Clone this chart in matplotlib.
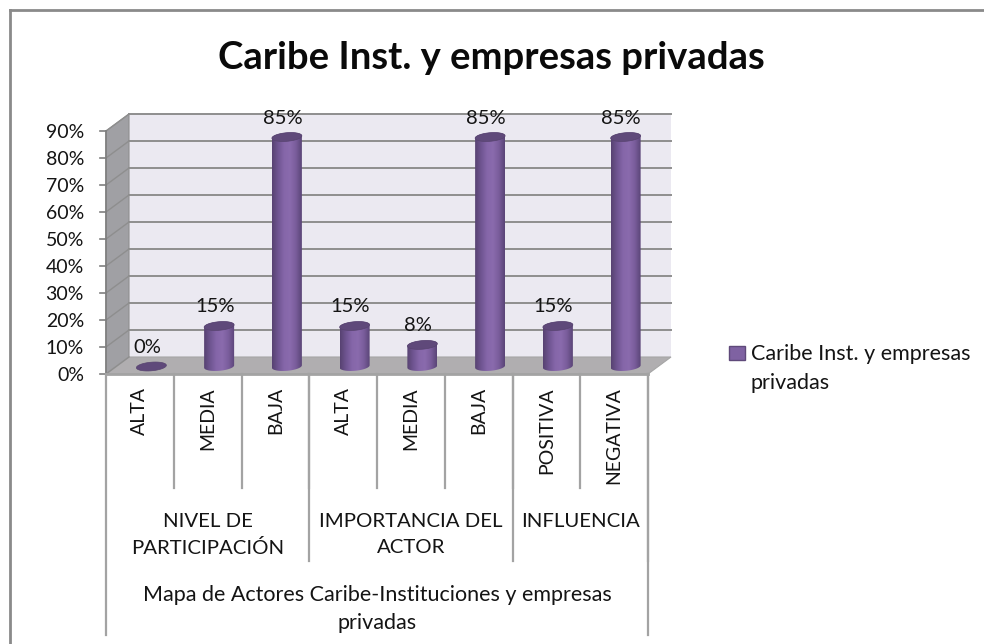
import numpy as np
import matplotlib
matplotlib.use('Agg')
import matplotlib.pyplot as plt
from matplotlib.patches import PathPatch, Polygon, Rectangle
from matplotlib.path import Path
from matplotlib.colors import LinearSegmentedColormap

categories = ['ALTA', 'MEDIA', 'BAJA', 'ALTA', 'MEDIA', 'BAJA', 'POSITIVA', 'NEGATIVA']
values = [0, 15, 85, 15, 8, 85, 15, 85]
groups = ['NIVEL DE\nPARTICIPACIÓN', 'IMPORTANCIA DEL\nACTOR', 'INFLUENCIA']
group_sizes = [3, 3, 2]
outer_label = 'Mapa de Actores Caribe-Instituciones y empresas\nprivadas'
series_name = 'Caribe Inst. y empresas\nprivadas'
title = 'Caribe Inst. y empresas privadas'
yticks = list(range(0, 100, 10))

W, H = 984, 644
plt.rcParams['font.family'] = ['Lato', 'DejaVu Sans']

fig = plt.figure(figsize=(W / 100, H / 100), dpi=100)

# whole figure is one axes, x in categories and y in percent
x0, xw = 106, 67.75
y0, yh = 374, 2.7
ax = fig.add_axes([0, 0, 1, 1])
ax.axis('off')

px = 1 / xw
py = 1 / yh
dx, dy = 23 * px, 17 * py  # depth of the 3d box
n = len(categories)
ymax = yticks[-1]
grey = '#a3a3a3'
text_col = '#141414'


def ellipse_pts(cx, cy, start, stop):
    # tilted a little, like the office 3d cylinders
    t = np.linspace(start, stop, 40)
    ex = 15 * np.cos(t)
    ey = 4.3 * np.sin(t) + 0.08 * ex
    return np.column_stack([cx + ex * px, cy + ey * py])


# chart frame, only top and left show
frame = dict(color='#8a8a8a', lw=2, transform=fig.transFigure)
fig.add_artist(plt.Line2D([10 / W, 10 / W], [0, 1 - 10 / H], **frame))
fig.add_artist(plt.Line2D([10 / W, 1], [1 - 10 / H, 1 - 10 / H], **frame))

# walls
ax.add_patch(Polygon([(dx, dy), (n + dx, dy), (n + dx, ymax + dy), (dx, ymax + dy)], fc='#ebe9f1', ec='none', zorder=1))
ax.add_patch(Polygon([(0, 0), (dx, dy), (dx, ymax + dy), (0, ymax)], fc='#a0a0a4', ec='#8f8f8f', lw=0.8, zorder=2))
ax.add_patch(Polygon([(0, 0), (n, 0), (n + dx, dy), (dx, dy)], fc='#b0aeb0', ec='#a6a6a6', lw=0.8, zorder=2))

for t in yticks:
    if t > 0:
        ax.plot([dx, n + dx], [t + dy, t + dy], color='#8e8e8e', lw=1.4, zorder=3)
    ax.plot([0, dx], [t, t + dy], color='#8e8e8e', lw=1.0, zorder=3)
    ax.plot([-6 * px, 0], [t, t], color='#7f7f7f', lw=1.2, zorder=3)
    ax.text(-22 * px, t - 2 * py, f'{t}%', ha='right', va='center', fontsize=14, color=text_col, zorder=6)
ax.plot([0, 0], [0, ymax], color='#7f7f7f', lw=1.2, zorder=3)
ax.plot([0, n], [0, 0], color=grey, lw=2, zorder=3)

# cylinders
cmap = LinearSegmentedColormap.from_list('cyl', ['#574272', '#6f5591', '#8566a9', '#8a6bad', '#7a5d9c', '#5b4578'])
grad = np.linspace(0, 1, 64).reshape(1, -1)
bw = 30 * px
for i, v in enumerate(values):
    cx = i + 0.5 + dx / 2
    base = dy / 2 - 1 * py
    top = base + v
    if v > 0:
        bottom = ellipse_pts(cx, base, np.pi, 2 * np.pi)
        upper = ellipse_pts(cx, top, 0, np.pi)
        body = Path(np.vstack([bottom, upper, bottom[:1]]), closed=True)
        patch = PathPatch(body, fc='none', ec='none', zorder=4)
        ax.add_patch(patch)
        im = ax.imshow(grad, extent=[cx - bw / 2, cx + bw / 2, base - 8 * py, top + 8 * py], cmap=cmap,
                       aspect='auto', zorder=4)
        im.set_clip_path(patch)
    ax.add_patch(Polygon(ellipse_pts(cx, top, 0, 2 * np.pi), fc='#5f497a', ec='#57436f', lw=0.5, zorder=5))
    ax.text(i + 0.5 + 7 * px, top + 19 * py, f'{v}%', ha='center', va='center', fontsize=14.5,
            color=text_col, zorder=6)

ax.set_xlim(-x0 / xw, (W - x0) / xw)
ax.set_ylim((y0 - H) / yh, y0 / yh)

# multi level axis below the box
line = dict(color=grey, lw=1.6, zorder=3)
y1, y2, y3 = -114 * py, -187 * py, -261 * py
ax.plot([0, 0], [0, y3], **line)
for i, c in enumerate(categories):
    if i > 0:
        ax.plot([i, i], [0, y1], **line)
    ax.text(i + 0.5, -13 * py, c, rotation=90, ha='center', va='top', fontsize=14, color=text_col)
pos = 0
for g, size in zip(groups, group_sizes):
    pos += size
    ax.plot([pos, pos], [0, y2], **line)
    ax.text(pos - size / 2, -139 * py, g, ha='center', va='top', fontsize=14.7,
            color=text_col, linespacing=1.62)
ax.plot([n, n], [0, y3], **line)
ax.text(n / 2, -235 * py, outer_label, ha='center', va='center', fontsize=15.5,
        color=text_col, linespacing=1.55)

# title and legend
fig.text(491 / W, 1 - 58 / H, title, ha='center', va='center', fontsize=27.5, fontweight='bold', color='#0a0a0a')
fig.add_artist(Rectangle((729 / W, 1 - 360 / H), 16 / W, 14 / H, fc='#7f62a2', ec='#5f497a', lw=1,
                         transform=fig.transFigure))
fig.text(751 / W, 1 - 344 / H, series_name, ha='left', va='top', fontsize=15.5, color=text_col,
         linespacing=1.55)

fig.savefig('out.png', dpi=100)
